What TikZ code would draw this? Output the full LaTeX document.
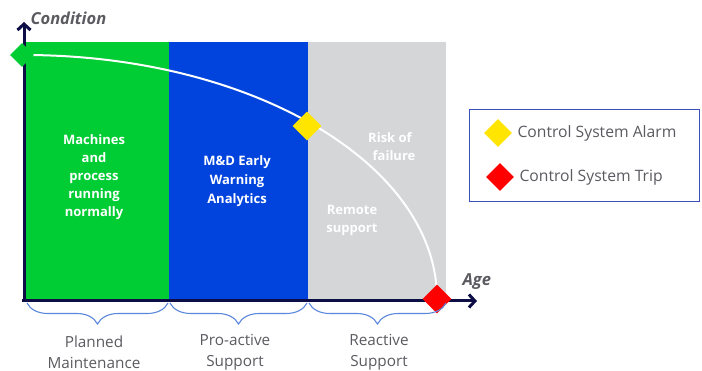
\documentclass[tikz,border=0pt]{standalone}
\usepackage{fontspec}
\setmainfont{Open Sans}
\usetikzlibrary{arrows.meta,decorations.pathreplacing,shapes.geometric}

\definecolor{phasegreen}{RGB}{0,204,51}
\definecolor{phaseblue}{RGB}{0,68,221}
\definecolor{phasegray}{RGB}{212,214,216}
\definecolor{axisnavy}{RGB}{14,14,70}
\definecolor{bracecol}{RGB}{90,135,220}
\definecolor{labelgray}{RGB}{90,90,96}
\definecolor{alarmyellow}{RGB}{255,229,0}
\definecolor{tripred}{RGB}{255,0,0}
\definecolor{legendblue}{RGB}{60,80,185}

\tikzset{
  phasetext/.style={text=white, align=center, font=\fontsize{13}{18}\selectfont\bfseries},
  marker/.style={diamond, minimum size=29pt, inner sep=0pt, draw=none},
  axis/.style={draw=axisnavy, line width=3pt, -{Straight Barb[length=6pt,width=13pt,line width=3pt]}},
  axistext/.style={text=labelgray, anchor=west, font=\fontsize{16.5}{18}\selectfont\bfseries\itshape},
  phasebrace/.style={draw=bracecol, line width=1.1pt, decorate,
    decoration={brace, mirror, amplitude=21pt}},
  bracetext/.style={text=labelgray, align=center, font=\fontsize{15.3}{21}\selectfont},
  legendtext/.style={text=labelgray, anchor=west, font=\fontsize{15.7}{17}\selectfont},
}

\begin{document}
\begin{tikzpicture}[x=1pt, y=-1pt]
    \useasboundingbox (0,0) rectangle (702,371);

    % the three phases
    \fill[phasegreen] (24,42) rectangle (169,301);
    \fill[phaseblue]  (169,42) rectangle (308,301);
    \fill[phasegray]  (308,42) rectangle (446,301);

    \node[phasetext] (normal) at (94,177) {Machines\\and\\process\\running\\normally};
    \node[phasetext, font=\fontsize{13}{19}\selectfont\bfseries] (warning) at (237,181) {M\&D Early\\Warning\\Analytics};
    \node[phasetext] (risk) at (394,147) {\hspace*{-8pt}Risk of\\failure};
    \node[phasetext] (remote) at (352,220) {Remote\\support};

    % axes
    \coordinate (origin) at (24,301);
    \coordinate (ytop) at (24,22);
    \coordinate (xend) at (477,301);
    \draw[axis] (22,301) -- (xend);
    \draw[axis] (origin) -- (ytop);
    \node[axistext] (condition) at (27,18) {Condition};
    \node[axistext] (age) at (459,282) {Age};

    % condition curve
    \draw[white, line width=2pt] (24,55) arc[start angle=-90, end angle=0, x radius=413, y radius=244];

    \node[marker, fill=phasegreen, minimum size=24pt] (start) at (22,55) {};
    \node[marker, fill=alarmyellow] (alarm) at (307,126) {};
    \node[marker, fill=tripred] (trip) at (437,299) {};

    % braces under the age axis
    \coordinate (b0) at (27,303);
    \coordinate (b1) at (168,303);
    \coordinate (b2) at (170,303);
    \coordinate (b3) at (307,303);
    \coordinate (b4) at (309,303);
    \coordinate (b5) at (446,303);
    \draw[phasebrace] (b0) -- (b1);
    \draw[phasebrace] (b2) -- (b3);
    \draw[phasebrace] (b4) -- (b5);

    \node[bracetext] (planned) at (94,352) {Planned\\Maintenance};
    \node[bracetext] (proactive) at (235,352) {Pro-active\\Support};
    \node[bracetext] (reactive) at (379,352) {Reactive\\Support};

    % legend
    \draw[legendblue, line width=1pt] (469,110) rectangle (699,202);
    \node[marker, fill=alarmyellow, minimum size=28pt] (alarmkey) at (498,133) {};
    \node[marker, fill=tripred, minimum size=28pt] (tripkey) at (500,177) {};
    \node[legendtext] (alarmlabel) at (514,133) {Control System Alarm};
    \node[legendtext] (triplabel) at (516,177) {Control System Trip};
\end{tikzpicture}
\end{document}
